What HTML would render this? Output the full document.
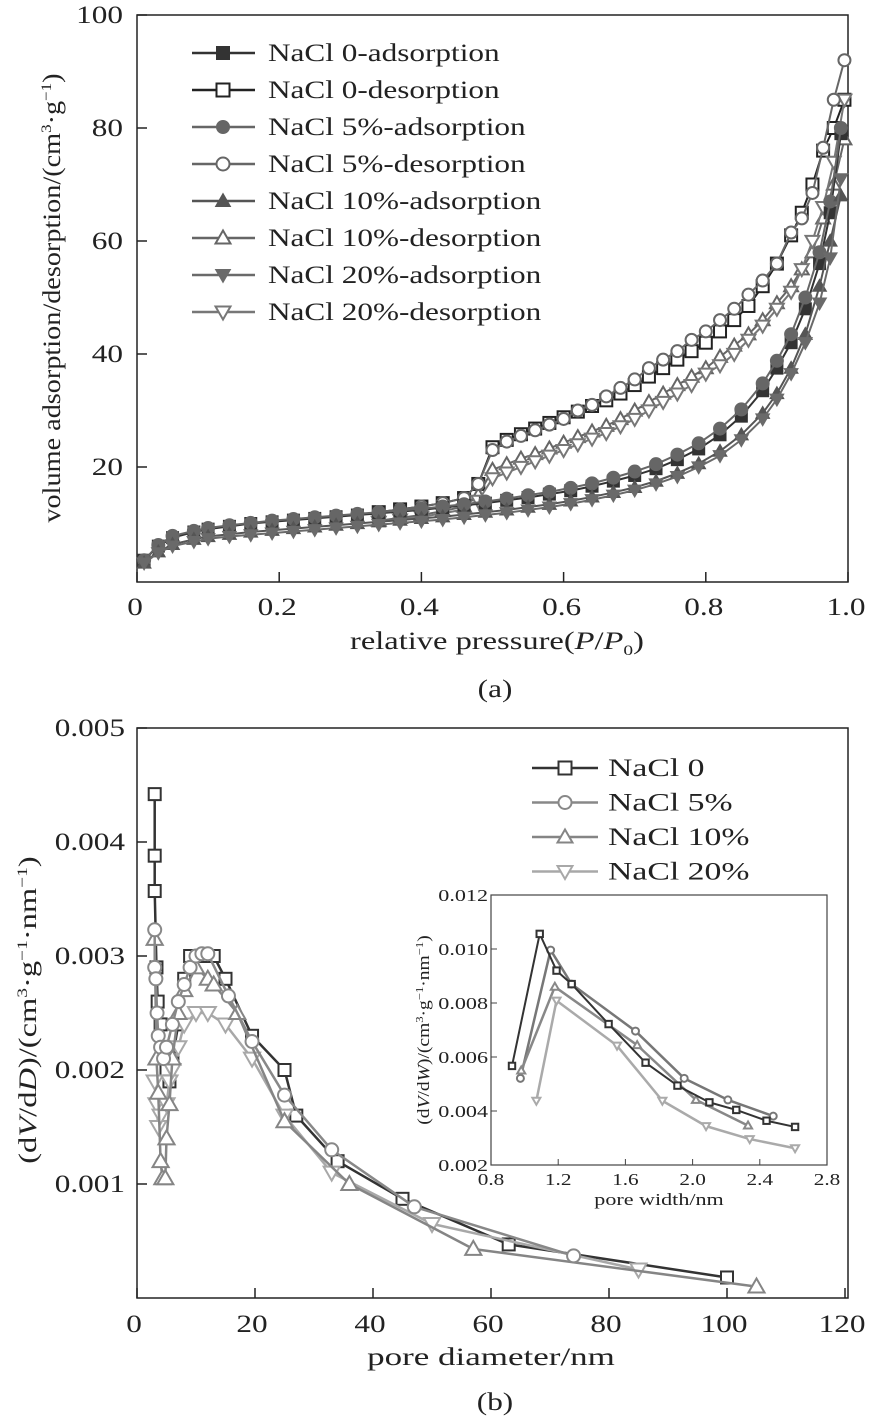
<!DOCTYPE html>
<html><head><meta charset="utf-8"><style>
body{margin:0;background:#fff}
svg{display:block;font-family:"Liberation Serif",serif}
</style></head><body>
<svg id="s" width="870" height="1419" viewBox="0 0 870 1419"></svg>
<script>
// ---------- Data: chart (a) ----------
const adsP=[0.01,0.03,0.05,0.08,0.1,0.13,0.16,0.19,0.22,0.25,0.28,0.31,0.34,0.37,0.4,0.43,0.46,0.49,0.52,0.55,0.58,0.61,0.64,0.67,0.7,0.73,0.76,0.79,0.82,0.85,0.88,0.9,0.92,0.94,0.96,0.975,0.99];
const ads0=[3.5,6,7.5,8.5,9,9.5,10,10.3,10.6,10.9,11.2,11.5,11.8,12.1,12.4,12.8,13.2,13.6,14.1,14.6,15.2,15.8,16.6,17.5,18.5,19.7,21.3,23.2,25.7,29,33.5,37.5,42,48,56,65,79];
const ads5=[3.5,6.2,7.8,8.7,9.2,9.7,10.1,10.5,10.8,11.1,11.4,11.7,12,12.3,12.6,13,13.4,13.9,14.4,15,15.6,16.3,17.1,18.1,19.2,20.5,22.2,24.2,26.8,30.2,34.8,38.8,43.5,50,58,67,80];
const ads10=[3,5,6.3,7.2,7.7,8.1,8.5,8.8,9.1,9.4,9.7,10,10.3,10.6,10.9,11.2,11.6,12,12.4,12.9,13.4,14,14.7,15.5,16.4,17.5,18.9,20.6,22.8,25.7,29.5,33,37.5,43.5,52,60,68];
const ads20=[3,4.8,6,6.8,7.3,7.7,8,8.3,8.6,8.9,9.2,9.5,9.8,10.1,10.4,10.7,11.1,11.5,11.9,12.4,12.9,13.5,14.2,15,15.9,17,18.3,20,22,24.8,28.5,32,36.5,42,49,57,71];
const desP=[0.995,0.98,0.965,0.95,0.935,0.92,0.9,0.88,0.86,0.84,0.82,0.8,0.78,0.76,0.74,0.72,0.7,0.68,0.66,0.64,0.62,0.6,0.58,0.56,0.54,0.52,0.5,0.48,0.46,0.43,0.4,0.37,0.34];
const des0=[85,80,76,70,65,61,56,52,48.5,46,44,42,40.5,39,37.5,36,34.5,33,31.8,30.8,29.8,28.8,27.8,26.8,25.8,24.8,23.5,17,14.5,13.6,13,12.5,12];
const des5=[92,85,76.5,68.5,64,61.5,56,53,50.5,48,46,44,42.5,40.5,39,37.5,35.5,34,32.5,31,30,28.5,27.5,26.5,25.5,24.5,23,17,14.5,13.6,13,12.5,12];
const des10=[78,70,64,58,55,52,49,46,43.5,41.5,39.5,37.5,36,34.5,33,31.5,30,28.5,27.3,26.3,25.3,24.3,23.3,22.3,21.5,20.5,19.5,15,13,12.2,11.5,11,10.5];
const des20=[85,74,66,60,55,51,48,45,42.5,40,38,36.5,34.5,33,31.5,30,28.5,27.2,26,25,24,23,22,21,20,19,18,14,12.5,11.8,11.2,10.7,10.3];
const aXTicks=["0","0.2","0.4","0.6","0.8","1.0"];
const aYTicks=[20,40,60,80,100];
const aLegend=["NaCl 0-adsorption","NaCl 0-desorption","NaCl 5%-adsorption","NaCl 5%-desorption","NaCl 10%-adsorption","NaCl 10%-desorption","NaCl 20%-adsorption","NaCl 20%-desorption"];
// ---------- Data: chart (b) ----------
const b0x=[3,3,3,3.3,3.5,4,4.5,5,5.5,6,7,8,9,11,13,15,19.5,25,27,34,45,63,100];
const b0y=[0.00442,0.00388,0.00357,0.0029,0.0026,0.0024,0.0022,0.002,0.0019,0.0021,0.0024,0.0028,0.003,0.003,0.003,0.0028,0.0023,0.002,0.0016,0.0012,0.00087,0.00047,0.00018];
const b5x=[3,3,3.2,3.4,3.6,4,4.5,5,6,7,8,9,10,11,12,15.5,19.5,25,33,47,74];
const b5y=[0.00323,0.0029,0.0028,0.0025,0.0023,0.0022,0.0021,0.0022,0.0024,0.0026,0.00275,0.0029,0.003,0.00302,0.00302,0.00265,0.00225,0.00178,0.0013,0.0008,0.00037];
const b10x=[3,3.3,3.6,4,4.3,4.8,5,5.5,6,7,8,10,12,13,17,25,36,57,105];
const b10y=[0.00315,0.0021,0.0018,0.0012,0.00105,0.00105,0.0014,0.0017,0.0021,0.0025,0.0027,0.0029,0.0028,0.00275,0.0025,0.00155,0.001,0.00043,0.0001];
const b20x=[3,3.3,3.6,4,5,5.5,6,7,8,10,12,15,19.5,25,33,50,85];
const b20y=[0.0019,0.0017,0.0015,0.0016,0.0017,0.0019,0.002,0.0022,0.0024,0.0025,0.0025,0.0024,0.0021,0.0016,0.0011,0.00065,0.00025];
const bXTicks=[0,20,40,60,80,100,120];
const bYTicks=["0.001","0.002","0.003","0.004","0.005"];
const bLegend=["NaCl 0","NaCl 5%","NaCl 10%","NaCl 20%"];
// ---------- Data: inset ----------
const i0x=[0.925,1.09,1.19,1.28,1.5,1.72,1.91,2.1,2.26,2.44,2.61];
const i0y=[0.00567,0.01056,0.0092,0.0087,0.00722,0.00579,0.00494,0.00432,0.00404,0.00364,0.00341];
const i5x=[0.975,1.155,1.28,1.66,1.95,2.21,2.48];
const i5y=[0.00521,0.00996,0.0087,0.00696,0.00521,0.00441,0.00381];
const i10x=[0.98,1.18,1.67,2.02,2.33];
const i10y=[0.0055,0.0086,0.00644,0.00441,0.00346];
const i20x=[1.07,1.19,1.55,1.82,2.08,2.34,2.61];
const i20y=[0.00438,0.00809,0.00642,0.00438,0.00344,0.00296,0.00262];
const iXTicks=["0.8","1.2","1.6","2.0","2.4","2.8"];
const iYTicks=["0.002","0.004","0.006","0.008","0.010","0.012"];

const NS="http://www.w3.org/2000/svg";
const svg=document.getElementById('s');
function el(tag,attrs,parent,text){const e=document.createElementNS(NS,tag);for(const k in attrs)e.setAttribute(k,attrs[k]);if(text!==undefined)e.textContent=text;(parent||svg).appendChild(e);return e;}
function grp(name,parent){const g=el('g',{},parent);


return g;}
// text with horizontal stretch
function T(parent,x,y,size,anchor,sx,content,rot,name,isHtml){
 const tr=`translate(${x},${y})`+(rot?` rotate(${rot})`:'')+` scale(${sx},1)`;
 const t=el('text',{transform:tr,'font-size':size,'text-anchor':anchor,fill:'#222'},parent);
 if(isHtml)t.innerHTML=content;else t.textContent=content;
 
 
 return t;
}
function marker(g,type,x,y,r,color,fill,sw){
 let m;
 if(type==='sq'){m=el('rect',{x:x-r,y:y-r,width:2*r,height:2*r,fill:fill,stroke:color,'stroke-width':sw},g);}
 else if(type==='ci'){m=el('circle',{cx:x,cy:y,r:r,fill:fill,stroke:color,'stroke-width':sw},g);}
 else if(type==='tu'){m=el('polygon',{points:`${x},${y-r*1.15} ${x-r*1.15},${y+r*0.85} ${x+r*1.15},${y+r*0.85}`,fill:fill,stroke:color,'stroke-width':sw},g);}
 else {m=el('polygon',{points:`${x},${y+r*1.15} ${x-r*1.15},${y-r*0.85} ${x+r*1.15},${y-r*0.85}`,fill:fill,stroke:color,'stroke-width':sw},g);}
 
 
}
function series(name,xs,ys,sx,sy,color,type,filled,r,lw){
 const g=grp(name);
 const pts=xs.map((v,i)=>sx(v)+','+sy(ys[i])).join(' ');
 el('polyline',{points:pts,fill:'none',stroke:color,'stroke-width':lw,'stroke-linejoin':'round'},g);
 xs.forEach((v,i)=>marker(g,type,sx(v),sy(ys[i]),r,color,filled?color:'#fff',filled?1:2));
}
// ===== Chart (a) =====
const aL=137,aR=848,aT=15,aB=582;
const ax=v=>aL+(aR-aL)*v;
const ay=v=>580-5.65*v;
const ga=grp('chart-a');
el('rect',{x:aL,y:aT,width:aR-aL,height:aB-aT,fill:'none',stroke:'#222','stroke-width':1.5},ga);
aXTicks.forEach((t,i)=>{const x=ax(i*0.2);el('line',{x1:x,y1:aB,x2:x,y2:aB-10,stroke:'#222','stroke-width':1.5},ga);
 T(ga,x-2,aB+33,25,'middle',1.25,t,0,'x-tick-label');});
aYTicks.forEach(t=>{const y=ay(t);el('line',{x1:aL,y1:y,x2:aL+10,y2:y,stroke:'#222','stroke-width':1.5},ga);
 T(ga,aL-14,y+8,25,'end',1.25,String(t),0,'y-tick-label');});
T(ga,497,649,25,'middle',1.3,'relative pressure(<tspan font-style="italic">P</tspan>/<tspan font-style="italic">P</tspan><tspan font-size="15" dy="6">0</tspan><tspan dy="-6">)</tspan>',0,'x-axis-title',true);
T(ga,60,298,25,'middle',1.13,'volume adsorption/desorption/(cm<tspan font-size="15" dy="-9">3</tspan><tspan dy="9">·g</tspan><tspan font-size="15" dy="-9">−1</tspan><tspan dy="9">)</tspan>',-90,'y-axis-title',true);
const cA=['#333','#222','#666','#666','#555','#666','#6a6a6a','#777'];
const tA=['sq','sq','ci','ci','tu','tu','td','td'];
series('series-0-desorption',desP,des0,ax,ay,cA[1],'sq',false,6,2);
series('series-10-desorption',desP,des10,ax,ay,cA[5],'tu',false,6,2);
series('series-20-desorption',desP,des20,ax,ay,cA[7],'td',false,6,2);
series('series-5-desorption',desP,des5,ax,ay,cA[3],'ci',false,6,2);
series('series-0-adsorption',adsP,ads0,ax,ay,cA[0],'sq',true,6,2);
series('series-5-adsorption',adsP,ads5,ax,ay,cA[2],'ci',true,6.5,2);
series('series-10-adsorption',adsP,ads10,ax,ay,cA[4],'tu',true,6,2);
series('series-20-adsorption',adsP,ads20,ax,ay,cA[6],'td',true,6,2);
const la=grp('legend-a');
aLegend.forEach((t,i)=>{const y=53+i*37;const g=grp('legend-entry',la);
 el('line',{x1:192,y1:y,x2:255,y2:y,stroke:cA[i],'stroke-width':2.5},g);
 marker(g,tA[i],223,y,6.5,cA[i],i%2===0?cA[i]:'#fff',i%2===0?1:2);
 T(g,268,y+8,25,'start',1.25,t,0,'legend-label');});
T(svg,495,697,25,'middle',1.25,'(a)',0,'panel-label-a');
// ===== Chart (b) =====
const bL=137,bR=848,bT=728,bB=1298;
const bx=v=>bL+5.9*v;
const by=v=>bB-114000*v;
const gb=grp('chart-b');
el('rect',{x:bL,y:bT,width:bR-bL,height:bB-bT,fill:'none',stroke:'#222','stroke-width':1.5},gb);
bXTicks.forEach(t=>{const x=bx(t);el('line',{x1:x,y1:bB,x2:x,y2:bB-10,stroke:'#222','stroke-width':1.5},gb);
 T(gb,x-3,bB+34,25,'middle',1.25,String(t),0,'x-tick-label');});
bYTicks.forEach(t=>{const y=by(parseFloat(t));el('line',{x1:bL,y1:y,x2:bL+10,y2:y,stroke:'#222','stroke-width':1.5},gb);
 T(gb,bL-12,y+8,25,'end',1.25,t,0,'y-tick-label');});
T(gb,491,1365,25,'middle',1.4,'pore diameter/nm',0,'x-axis-title');
T(gb,36,1010,25,'middle',1.3,'(d<tspan font-style="italic">V</tspan>/d<tspan font-style="italic">D</tspan>)/(cm<tspan font-size="15" dy="-9">3</tspan><tspan dy="9">·g</tspan><tspan font-size="15" dy="-9">−1</tspan><tspan dy="9">·nm</tspan><tspan font-size="15" dy="-9">−1</tspan><tspan dy="9">)</tspan>',-90,'y-axis-title',true);
const cB=['#333','#888','#858585','#a8a8a8'];
const tB=['sq','ci','tu','td'];
series('series-nacl-0',b0x,b0y,bx,by,cB[0],'sq',false,6,2.5);
series('series-nacl-20',b20x,b20y,bx,by,cB[3],'td',false,7,2.5);
series('series-nacl-10',b10x,b10y,bx,by,cB[2],'tu',false,7,2.5);
series('series-nacl-5',b5x,b5y,bx,by,cB[1],'ci',false,6.5,2.5);
const lb=grp('legend-b');
bLegend.forEach((t,i)=>{const y=768+i*34.5;const g=grp('legend-entry',lb);
 el('line',{x1:532,y1:y,x2:598,y2:y,stroke:cB[i],'stroke-width':2.5},g);
 marker(g,tB[i],565,y,6.5,cB[i],'#fff',2);
 T(g,608,y+8,25,'start',1.35,t,0,'legend-label');});
// ===== Inset =====
const iL=491,iR=827,iT=895,iB=1165;
const ix=v=>iL+(v-0.8)*168;
const iy=v=>iB-(v-0.002)*27000;
const gi=grp('inset-chart');
el('rect',{x:iL,y:iT,width:iR-iL,height:iB-iT,fill:'#fff',stroke:'#444','stroke-width':1.2},gi);
iXTicks.forEach(t=>{const x=ix(parseFloat(t));el('line',{x1:x,y1:iB,x2:x,y2:iB-6,stroke:'#444','stroke-width':1},gi);
 T(gi,x,iB+20,17,'middle',1.25,t,0,'inset-x-tick-label');});
iYTicks.forEach(t=>{const y=iy(parseFloat(t));el('line',{x1:iL,y1:y,x2:iL+6,y2:y,stroke:'#444','stroke-width':1},gi);
 T(gi,iL-3,y+6,17,'end',1.3,t,0,'inset-y-tick-label');});
T(gi,659,1205,17,'middle',1.3,'pore width/nm',0,'inset-x-axis-title');
T(gi,429,1030,17,'middle',1.15,'(d<tspan font-style="italic">V</tspan>/d<tspan font-style="italic">W</tspan>)/(cm<tspan font-size="11" dy="-6">3</tspan><tspan dy="6">·g</tspan><tspan font-size="11" dy="-6">−1</tspan><tspan dy="6">·nm</tspan><tspan font-size="11" dy="-6">−1</tspan><tspan dy="6">)</tspan>',-90,'inset-y-axis-title',true);
const cI=['#333','#777','#888','#aaa'];
series('inset-nacl-5',i5x,i5y,ix,iy,cI[1],'ci',false,3.5,2.5);
series('inset-nacl-10',i10x,i10y,ix,iy,cI[2],'tu',false,3.5,2.5);
series('inset-nacl-20',i20x,i20y,ix,iy,cI[3],'td',false,3.5,2.5);
series('inset-nacl-0',i0x,i0y,ix,iy,cI[0],'sq',false,3.2,2);
T(svg,495,1410,25,'middle',1.25,'(b)',0,'panel-label-b');
</script>
</body></html>
